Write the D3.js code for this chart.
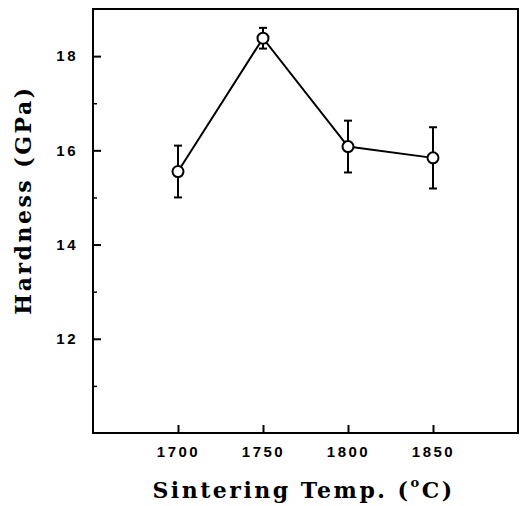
<!DOCTYPE html>
<html>
<head>
<meta charset="utf-8">
<script src="https://cdn.jsdelivr.net/npm/d3@7"></script>
<style>
  body { margin: 0; background: #fff; }
  .tick text { font-family: "Liberation Sans", Arial, sans-serif; font-weight: bold; font-size: 15px; letter-spacing: 2.5px; }
  .aText { font-family: "DejaVu Serif", serif; font-weight: bold; font-size: 22px; letter-spacing: 2.5px; }
</style>
</head>
<body>
<script>
var svgWidth = 522
var svgHeight = 506

var margin = {
    top: 9,
    right: 4,
    bottom: 73,
    left: 93
};

var width = svgWidth - margin.left - margin.right;
var height = svgHeight - margin.top - margin.bottom;

// data
var temps = [1700, 1750, 1800, 1850];
var hardness = [15.55, 18.38, 16.08, 15.84];
var errors = [0.55, 0.22, 0.55, 0.65];
var xTicks = [1700, 1750, 1800, 1850];
var yTicks = [12, 14, 16, 18];
var yMinorTicks = [11, 13, 15, 17];

var points = temps.map((t, i) => ({temp: t, h: hardness[i], err: errors[i]}));

var svg = d3.select("body").append("svg").attr("width", svgWidth).attr("height", svgHeight);

var chartGroup = svg.append("g").attr("transform", `translate(${margin.left}, ${margin.top})`);

var xScale = d3.scaleLinear().domain([1650, 1900]).range([0, width]);
var yScale = d3.scaleLinear().domain([10, 19]).range([height, 0]);

// frame
chartGroup.append("rect").attr("width", width).attr("height", height)
    .attr("fill", "none").attr("stroke", "#000").attr("stroke-width", 2);

// axes with inward ticks
var bottomAxis = d3.axisBottom(xScale).tickValues(xTicks).tickSize(-8).tickPadding(13).tickFormat(d3.format("d"));
var leftAxis = d3.axisLeft(yScale).tickValues(yTicks).tickSize(-8).tickPadding(15).tickFormat(d3.format("d"));

var xg = chartGroup.append("g").attr("transform", `translate(0,${height})`).call(bottomAxis);
var yg = chartGroup.append("g").call(leftAxis);
[xg, yg].forEach(g => {
    g.select(".domain").remove();
    g.selectAll(".tick line").attr("stroke", "#000").attr("stroke-width", 2);
    g.selectAll(".tick text").attr("fill", "#000");
});

// minor y ticks
chartGroup.append("g").call(d3.axisLeft(yScale).tickValues(yMinorTicks).tickSize(-4).tickFormat(""))
    .call(g => g.select(".domain").remove())
    .selectAll(".tick line").attr("stroke", "#000").attr("stroke-width", 1.5);

// line
var line = d3.line().x(d => xScale(d.temp)).y(d => yScale(d.h));
chartGroup.append("path").datum(points).attr("d", line)
    .attr("fill", "none").attr("stroke", "#000").attr("stroke-width", 2);

// error bars
var errGroup = chartGroup.selectAll(".err").data(points).enter().append("g").attr("class", "err");
errGroup.append("line")
    .attr("x1", d => xScale(d.temp)).attr("x2", d => xScale(d.temp))
    .attr("y1", d => yScale(d.h + d.err)).attr("y2", d => yScale(d.h - d.err))
    .attr("stroke", "#000").attr("stroke-width", 2);
errGroup.append("line")
    .attr("x1", d => xScale(d.temp) - 4).attr("x2", d => xScale(d.temp) + 4)
    .attr("y1", d => yScale(d.h + d.err)).attr("y2", d => yScale(d.h + d.err))
    .attr("stroke", "#000").attr("stroke-width", 2);
errGroup.append("line")
    .attr("x1", d => xScale(d.temp) - 4).attr("x2", d => xScale(d.temp) + 4)
    .attr("y1", d => yScale(d.h - d.err)).attr("y2", d => yScale(d.h - d.err))
    .attr("stroke", "#000").attr("stroke-width", 2);

// markers
chartGroup.selectAll("circle").data(points).enter().append("circle")
    .attr("cx", d => xScale(d.temp)).attr("cy", d => yScale(d.h))
    .attr("r", 5.5).attr("fill", "#fff").attr("stroke", "#000").attr("stroke-width", 2);

// y-axis label
chartGroup.append("text").attr("transform", "rotate(-90)")
    .attr("x", -191).attr("y", 0 - margin.left + 31)
    .attr("text-anchor", "middle").classed("aText", true).text("Hardness (GPa)");

// x-axis label
var xl = chartGroup.append("text").attr("transform", `translate(${width / 2 - 2},${height + 65})`)
    .attr("text-anchor", "middle").classed("aText", true);
xl.append("tspan").text("Sintering Temp. (");
xl.append("tspan").attr("dy", -11).attr("font-size", "13px").text("o");
xl.append("tspan").attr("dy", 11).text("C)");
</script>
</body>
</html>
